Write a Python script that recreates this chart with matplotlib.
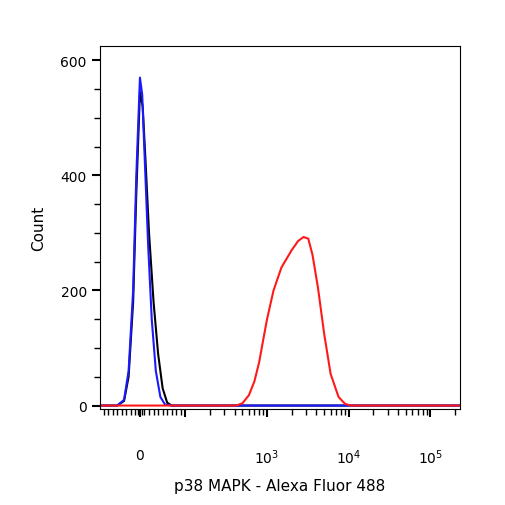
import numpy as np
import matplotlib.pyplot as plt
from matplotlib.ticker import FixedLocator, FixedFormatter

# histogram data (fluorescence value, count)
blue_x = [-90, -50, -35, -25, -15, -8, 0, 5, 10, 18, 26, 35, 45, 55, 70, 262144]
blue_y = [0, 0, 10, 60, 200, 400, 570, 540, 440, 280, 150, 60, 15, 2, 0, 0]
black_x = [-90, -50, -35, -25, -15, -8, 0, 6, 12, 20, 30, 40, 50, 60, 70, 262144]
black_y = [0, 0, 8, 50, 180, 370, 545, 520, 430, 300, 180, 90, 30, 5, 0, 0]
red_x = [-90, 420, 500, 600, 700, 800, 900, 1000, 1200, 1500, 2000, 2400, 2800, 3200, 3600,
         4200, 5000, 6000, 7500, 9000, 10500, 262144]
red_y = [0, 0, 4, 18, 42, 75, 115, 150, 200, 240, 270, 286, 293, 290, 262,
         205, 125, 55, 15, 3, 0, 0]

major_ticks = [0, 100, 1000, 10000, 100000]
tick_labels = ["0", "", "$10^3$", "$10^4$", "$10^5$"]
minor_ticks = ([-80, -70, -60, -50, -40, -30, -20, -10, -5, 5, 10, 20, 30, 40, 50, 60, 70, 80, 90]
               + [200, 300, 400, 500, 600, 700, 800, 900]
               + [2000, 3000, 4000, 5000, 6000, 7000, 8000, 9000]
               + [20000, 30000, 40000, 50000, 60000, 70000, 80000, 90000, 200000])

fig = plt.figure(figsize=(5.06, 5.06), dpi=100)
ax = fig.add_axes([100 / 506, 1 - 410 / 506, 360 / 506, 363 / 506])

ax.plot(black_x, black_y, color="black", lw=1.5)
ax.plot(blue_x, blue_y, color="#1a1aff", lw=1.5)
ax.plot(red_x, red_y, color="#ff1a1a", lw=1.5)

ax.set_xscale("symlog", linthresh=100, linscale=0.5)
ax.set_xlim(-88, 230000)
ax.set_ylim(-6, 625)

ax.xaxis.set_major_locator(FixedLocator(major_ticks))
ax.xaxis.set_major_formatter(FixedFormatter(tick_labels))
ax.xaxis.set_minor_locator(FixedLocator(minor_ticks))
ax.tick_params(axis="x", which="major", length=6, width=1.5, pad=22, labelsize=10)
ax.tick_params(axis="x", which="minor", length=4, width=1)

ax.set_yticks([0, 200, 400, 600])
ax.set_yticks(np.arange(0, 601, 50), minor=True)
ax.tick_params(axis="y", which="major", length=6, width=1.5, labelsize=10)
ax.tick_params(axis="y", which="minor", length=4, width=1)

ax.set_xlabel("p38 MAPK - Alexa Fluor 488", fontsize=11, labelpad=8)
ax.set_ylabel("Count", fontsize=11, labelpad=10)

fig.savefig("out.png", dpi=100)
